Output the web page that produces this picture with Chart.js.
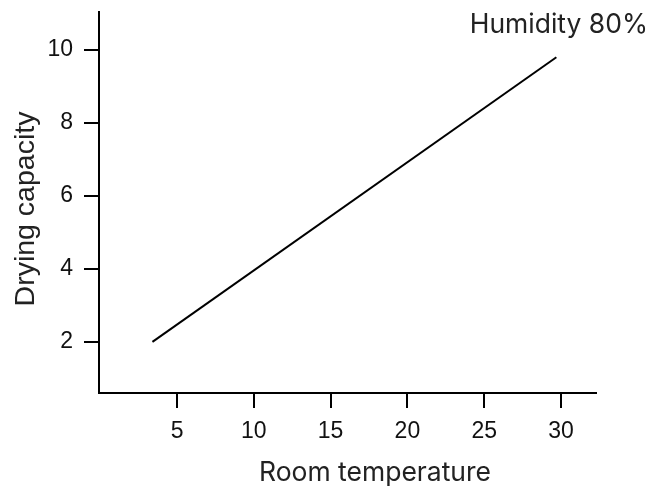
<!DOCTYPE html>
<html>
<head>
<meta charset="utf-8">
<script src="https://cdn.jsdelivr.net/npm/chart.js@4.4.1/dist/chart.umd.min.js"></script>
<style>
  html, body { margin: 0; padding: 0; background: #fff; }
  #wrap { width: 662px; height: 488px; }
</style>
</head>
<body>
<div id="wrap"><canvas id="c" width="662" height="488"></canvas></div>
<script>
// Drying capacity against room temperature at 80 % relative humidity
const temperature = [3.4, 29.7];
const capacity = [2.0, 9.8];
const xTicks = [5, 10, 15, 20, 25, 30];
const yTicks = [2, 4, 6, 8, 10];
const seriesLabel = 'Humidity 80%';
const xTitle = 'Room temperature';
const yTitle = 'Drying capacity';

const tickFont = { family: '"Liberation Sans", Arial, sans-serif', size: 23 };
const titleFont = '26.5px Inter, "Liberation Sans", sans-serif';
const yTitleFont = '28.5px "Liberation Sans", Arial, sans-serif';

const points = temperature.map((t, i) => ({ x: t, y: capacity[i] }));

// Text drawn around the plot: axis titles and the series caption
const captions = {
  id: 'captions',
  afterDraw(chart) {
    const { ctx } = chart;
    ctx.save();
    ctx.fillStyle = '#222';
    ctx.textBaseline = 'middle';

    ctx.font = titleFont;
    ctx.textAlign = 'center';
    ctx.fillText(xTitle, 375, 473);

    ctx.textAlign = 'right';
    ctx.fillText(seriesLabel, 648, 25);

    ctx.font = yTitleFont;
    ctx.translate(26, 209);
    ctx.rotate(-Math.PI / 2);
    ctx.textAlign = 'center';
    ctx.fillText(yTitle, 0, 0);
    ctx.restore();
  }
};

const axisStyle = {
  grid: { drawOnChartArea: false, drawTicks: true, tickLength: 15, color: '#000', lineWidth: 2 },
  border: { display: true, color: '#000', width: 2 },
};

const noEdgePadding = s => { s.paddingTop = 0; s.paddingBottom = 0; s.paddingLeft = 0; s.paddingRight = 0; };

new Chart(document.getElementById('c'), {
  type: 'line',
  data: {
    datasets: [{
      label: seriesLabel,
      data: points,
      borderColor: '#000',
      borderWidth: 2,
      pointRadius: 0,
      tension: 0,
      fill: false
    }]
  },
  options: {
    responsive: false,
    animation: false,
    devicePixelRatio: 1,
    layout: { padding: { top: 12, right: 66, left: 0, bottom: 0 } },
    plugins: { legend: { display: false }, tooltip: { enabled: false }, title: { display: false } },
    scales: {
      x: {
        type: 'linear',
        min: -0.08,
        max: 32.28,
        ...axisStyle,
        afterBuildTicks: s => { s.ticks = xTicks.map(v => ({ value: v })); },
        afterFit: s => { s.height = 95; noEdgePadding(s); },
        ticks: { font: tickFont, color: '#111', padding: 10, maxRotation: 0 }
      },
      y: {
        type: 'linear',
        min: 0.6,
        max: 11.04,
        ...axisStyle,
        afterBuildTicks: s => { s.ticks = yTicks.map(v => ({ value: v })); },
        afterFit: s => { s.width = 99; noEdgePadding(s); },
        ticks: { font: tickFont, color: '#111', padding: 11 }
      }
    }
  },
  plugins: [captions]
});
</script>
</body>
</html>
